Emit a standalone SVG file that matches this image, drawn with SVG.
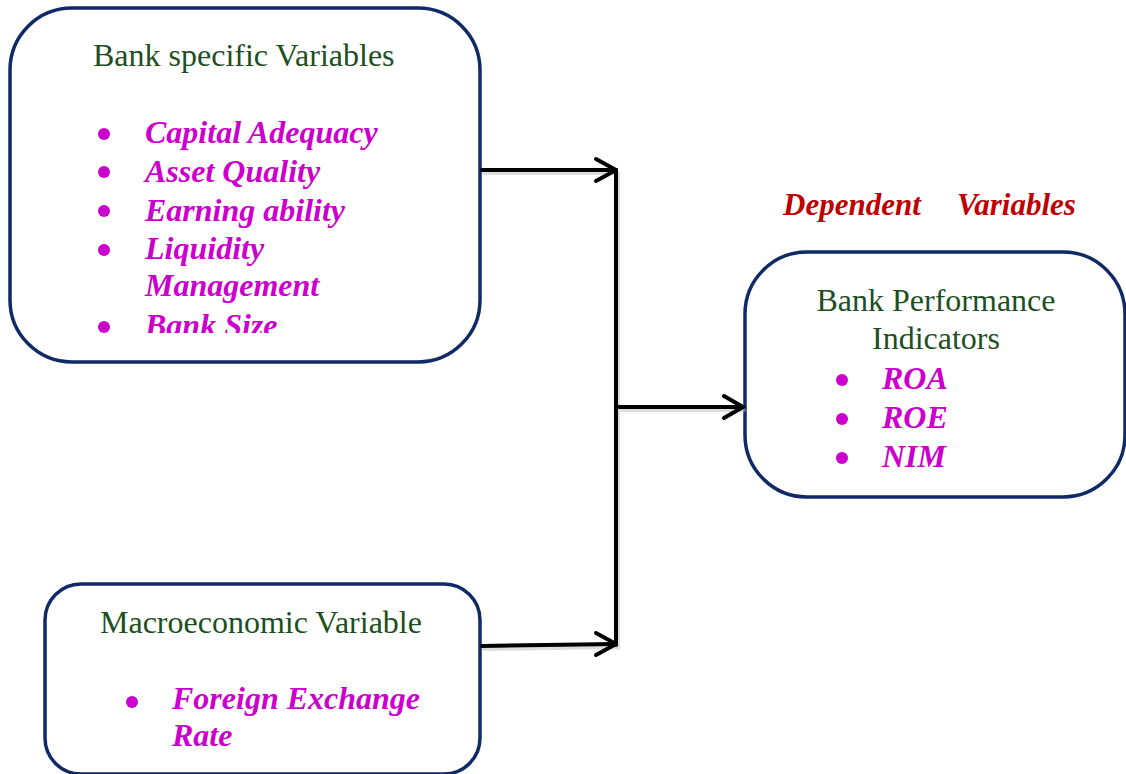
<svg xmlns="http://www.w3.org/2000/svg" width="1126" height="774" viewBox="0 0 1126 774">
<style>
.box{fill:#ffffff;stroke:#0f2a66;stroke-width:3.5}
.title{font-family:"Liberation Serif",serif;font-size:32px;fill:#1e4f1e}
.item{font-family:"Liberation Serif",serif;font-size:32px;font-weight:bold;font-style:italic;fill:#cc00cc}
.dep{font-family:"Liberation Serif",serif;font-size:31px;font-weight:bold;font-style:italic;fill:#c00000}
.bul{fill:#cc00cc}
.conn{fill:none;stroke:#000;stroke-width:4;stroke-linecap:round;stroke-linejoin:round}
.shadow{fill:none;stroke:#bbbbbb;stroke-width:4;stroke-linecap:round;stroke-linejoin:round}
</style>
<defs>
<clipPath id="clip1"><rect x="10" y="8" width="470" height="325"/></clipPath>
</defs>
<rect width="1126" height="774" fill="#ffffff"/>
<g id="bank-specific">
<rect class="box" x="10" y="8" width="470" height="354" rx="62" ry="62"/>
<text class="title" x="93" y="66">Bank specific Variables</text>
<g clip-path="url(#clip1)">
<circle class="bul" cx="104" cy="134" r="6"/>
<circle class="bul" cx="104" cy="172" r="6"/>
<circle class="bul" cx="104" cy="211" r="6"/>
<circle class="bul" cx="104" cy="250" r="6"/>
<circle class="bul" cx="104" cy="327" r="6"/>
<text class="item" x="145" y="143">Capital Adequacy</text>
<text class="item" x="145" y="182">Asset Quality</text>
<text class="item" x="145" y="221">Earning ability</text>
<text class="item" x="145" y="259">Liquidity</text>
<text class="item" x="145" y="296">Management</text>
<text class="item" x="145" y="336">Bank Size</text>
</g>
</g>
<g id="macro">
<rect class="box" x="45" y="584" width="435" height="190" rx="36" ry="36"/>
<text class="title" x="100" y="633">Macroeconomic Variable</text>
<circle class="bul" cx="132" cy="702" r="6"/>
<text class="item" x="172" y="709">Foreign Exchange</text>
<text class="item" x="172" y="746">Rate</text>
</g>
<g id="dependent-label">
<text class="dep" x="783" y="215">Dependent</text>
<text class="dep" x="957" y="215">Variables</text>
</g>
<g id="performance">
<rect class="box" x="745" y="252" width="380" height="245" rx="62" ry="62"/>
<text class="title" x="936" y="311" text-anchor="middle">Bank Performance</text>
<text class="title" x="936" y="349" text-anchor="middle">Indicators</text>
<circle class="bul" cx="842" cy="380" r="6"/>
<circle class="bul" cx="842" cy="419" r="6"/>
<circle class="bul" cx="842" cy="458" r="6"/>
<text class="item" x="882" y="389">ROA</text>
<text class="item" x="882" y="428">ROE</text>
<text class="item" x="882" y="467">NIM</text>
</g>
<g id="connectors">
<g transform="translate(2,3)">
<path class="shadow" d="M482 170 H616 M616 170 V645 M616 407 H742 M482 646 L616 644" opacity="0.5"/>
</g>
<path class="conn" d="M482 170 H616"/>
<path class="conn" d="M596 159 L616 170 L596 181"/>
<path class="conn" d="M616 170 V645"/>
<path class="conn" d="M618 407 H742"/>
<path class="conn" d="M724 396 L743 407 L724 418"/>
<path class="conn" d="M482 646 L616 644"/>
<path class="conn" d="M596 633 L616 644 L596 655"/>
</g>
</svg>
